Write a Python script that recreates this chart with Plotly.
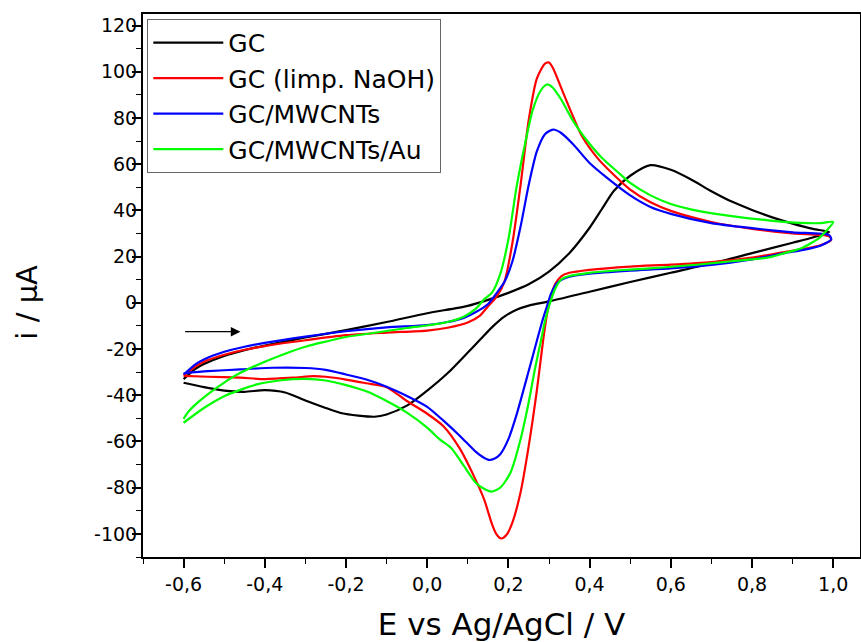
import plotly.graph_objects as go

# Cyclic voltammograms: forward sweep (-0.6 -> 1.0 V) followed by the reverse sweep.
gc_fwd_E = [-0.60, -0.57, -0.55, -0.50, -0.45, -0.40, -0.30, -0.20, -0.10, 0.00, 0.10, 0.15, 0.20,
            0.25, 0.30, 0.35, 0.40, 0.43, 0.46, 0.50, 0.55, 0.60, 0.65, 0.70, 0.75, 0.80, 0.85, 0.90, 0.95, 0.99]
gc_fwd_i = [-33.0, -28.5, -26.5, -23.0, -20.5, -18.5, -15.0, -11.8, -8.3, -4.5, -1.3, 1.3, 4.3,
            8.0, 13.5, 21.5, 32.5, 40.5, 48.5, 55.0, 59.6, 57.6, 53.4, 48.3, 43.8, 40.2, 37.0, 34.3, 32.0, 30.6]
gc_rev_E = [0.95, 0.90, 0.80, 0.70, 0.60, 0.50, 0.40, 0.30, 0.25, 0.22, 0.19, 0.16, 0.13, 0.10, 0.05,
            0.00, -0.05, -0.10, -0.13, -0.17, -0.21, -0.25, -0.30, -0.35, -0.40, -0.45, -0.50, -0.55, -0.60]
gc_rev_i = [28.3, 26.0, 21.5, 17.0, 13.0, 9.0, 4.8, 0.6, -1.2, -3.0, -6.0, -10.5, -16.0, -21.5, -30.5,
            -38.0, -44.5, -48.3, -49.3, -48.8, -47.8, -45.5, -42.3, -38.8, -37.8, -38.5, -38.0, -36.5, -34.6]

naoh_fwd_E = [-0.60, -0.57, -0.55, -0.50, -0.45, -0.40, -0.30, -0.20, -0.10, 0.00, 0.05, 0.10, 0.13,
              0.15, 0.17, 0.19, 0.21, 0.23, 0.25, 0.27, 0.29, 0.30, 0.31, 0.33, 0.35, 0.38, 0.42, 0.46,
              0.50, 0.55, 0.60, 0.70, 0.80, 0.90, 0.99]
naoh_fwd_i = [-31.5, -27.5, -25.5, -22.5, -20.3, -18.7, -16.2, -14.0, -12.9, -12.0, -10.8, -8.5, -5.5,
              -1.5, 2.5, 9.0, 26.0, 51.0, 79.0, 97.0, 103.5, 104.0, 101.5, 93.0, 84.5, 72.5, 62.5, 55.3,
              49.0, 43.5, 39.8, 35.0, 32.0, 30.0, 28.8]
naoh_rev_E = [0.995, 0.97, 0.93, 0.88, 0.80, 0.70, 0.60, 0.50, 0.40, 0.35, 0.33, 0.315, 0.305, 0.295, 0.285,
              0.27, 0.25, 0.23, 0.21, 0.195, 0.182, 0.17, 0.16, 0.14, 0.115, 0.08, 0.04, 0.00, -0.05,
              -0.10, -0.15, -0.20, -0.25, -0.28, -0.33, -0.40, -0.46, -0.54, -0.60]
naoh_rev_i = [27.2, 25.0, 23.4, 22.0, 19.6, 17.6, 16.5, 15.7, 14.3, 13.0, 11.5, 8.0, 3.0, -5.0, -17.0,
              -38.0, -62.0, -82.0, -95.0, -100.5, -102.0, -100.0, -96.0, -85.0, -75.0, -63.0, -53.4, -48.0, -42.5,
              -36.5, -34.8, -33.2, -32.0, -31.7, -32.4, -33.0, -32.4, -32.0, -31.6]

mw_fwd_E = [-0.60, -0.57, -0.55, -0.50, -0.45, -0.40, -0.30, -0.20, -0.10, 0.00, 0.05, 0.09, 0.12,
            0.15, 0.17, 0.19, 0.21, 0.23, 0.25, 0.27, 0.29, 0.31, 0.33, 0.36, 0.40, 0.44, 0.50, 0.55,
            0.60, 0.70, 0.80, 0.90, 0.99]
mw_fwd_i = [-31.0, -26.5, -24.5, -21.2, -19.0, -17.3, -14.6, -12.3, -10.6, -9.6, -8.3, -6.5, -4.0,
            -0.5, 4.0, 9.0, 18.0, 33.0, 51.0, 65.5, 73.0, 75.0, 73.5, 68.5, 60.5, 54.5, 46.5, 41.5,
            38.5, 34.5, 32.3, 30.5, 29.3]
mw_rev_E = [0.995, 0.97, 0.93, 0.88, 0.80, 0.70, 0.60, 0.50, 0.40, 0.35, 0.32, 0.305, 0.295, 0.285, 0.27,
            0.25, 0.22, 0.20, 0.18, 0.165, 0.152, 0.135, 0.12, 0.08, 0.04, 0.00, -0.05, -0.10, -0.15,
            -0.20, -0.25, -0.30, -0.38, -0.46, -0.54, -0.60]
mw_rev_i = [27.5, 24.8, 23.0, 21.5, 18.8, 16.4, 14.9, 13.9, 12.6, 11.3, 8.6, 4.0, -1.5, -7.0, -16.5,
            -29.5, -48.5, -59.0, -65.5, -67.5, -68.0, -66.5, -64.5, -57.5, -51.0, -45.0, -40.3, -36.3, -33.2,
            -31.0, -29.0, -28.2, -28.1, -28.8, -29.6, -30.5]

au_fwd_E = [-0.60, -0.59, -0.575, -0.54, -0.50, -0.46, -0.40, -0.35, -0.30, -0.25, -0.20, -0.15, -0.10,
            -0.05, 0.00, 0.05, 0.09, 0.12, 0.14, 0.16, 0.18, 0.20, 0.22, 0.24, 0.26, 0.28, 0.295, 0.31,
            0.33, 0.36, 0.39, 0.43, 0.47, 0.50, 0.55, 0.60, 0.67, 0.75, 0.84, 0.92, 0.97, 1.00]
au_fwd_i = [-50.2, -47.5, -44.7, -39.5, -34.5, -30.3, -25.5, -22.0, -19.0, -16.8, -14.8, -13.5, -12.2,
            -10.9, -9.8, -8.3, -6.0, -2.5, 1.5, 4.5, 12.5, 27.5, 50.0, 68.0, 83.5, 92.0, 94.5, 93.0,
            88.0, 78.5, 71.0, 62.8, 56.5, 51.9, 46.5, 42.8, 39.7, 37.5, 35.7, 34.6, 34.5, 35.0]
au_rev_E = [0.985, 0.965, 0.945, 0.92, 0.88, 0.84, 0.75, 0.67, 0.58, 0.50, 0.40, 0.35, 0.33, 0.315,
            0.30, 0.29, 0.28, 0.265, 0.25, 0.23, 0.205, 0.18, 0.158, 0.14, 0.12, 0.09, 0.06, 0.03, 0.00,
            -0.05, -0.10, -0.15, -0.20, -0.25, -0.30, -0.36, -0.42, -0.50, -0.55, -0.60]
au_rev_i = [31.5, 28.0, 25.8, 23.5, 21.5, 19.6, 18.0, 16.6, 15.3, 14.4, 13.0, 11.6, 10.1, 6.0,
            -1.5, -8.0, -16.5, -29.0, -43.0, -59.0, -73.5, -80.0, -81.7, -80.5, -78.0, -70.5, -63.0, -59.0, -54.0,
            -47.5, -42.5, -38.3, -35.6, -33.6, -32.9, -33.5, -35.3, -40.4, -45.5, -51.9]

series_names = ["GC", "GC (limp. NaOH)", "GC/MWCNTs", "GC/MWCNTs/Au"]
series_colors = ["#000000", "#ff0000", "#0000ff", "#00ff00"]
series_data = [
    (gc_fwd_E + gc_rev_E, gc_fwd_i + gc_rev_i),
    (naoh_fwd_E + naoh_rev_E, naoh_fwd_i + naoh_rev_i),
    (mw_fwd_E + mw_rev_E, mw_fwd_i + mw_rev_i),
    (au_fwd_E + au_rev_E, au_fwd_i + au_rev_i),
]

x_ticks = [-0.6, -0.4, -0.2, 0.0, 0.2, 0.4, 0.6, 0.8, 1.0]
x_tick_labels = ["-0,6", "-0,4", "-0,2", "0,0", "0,2", "0,4", "0,6", "0,8", "1,0"]
y_ticks = [-100, -80, -60, -40, -20, 0, 20, 40, 60, 80, 100, 120]
y_tick_labels = ["-100", "-80", "-60", "-40", "-20", "0", "20", "40", "60", "80", "100", "120"]

# sweep direction marker
sweep_arrow_start = (-0.60, -12.5)
sweep_arrow_end = (-0.46, -12.5)

FONT = "DejaVu Sans"

fig = go.Figure()
for name, color, (E, i) in zip(series_names, series_colors, series_data):
    fig.add_trace(go.Scatter(
        x=E, y=i, name=name, mode="lines",
        line=dict(color=color, width=2.2, shape="spline", smoothing=0.7),
    ))

fig.add_annotation(
    x=sweep_arrow_end[0], y=sweep_arrow_end[1],
    ax=sweep_arrow_start[0], ay=sweep_arrow_start[1],
    xref="x", yref="y", axref="x", ayref="y",
    text="", showarrow=True, arrowhead=2, arrowsize=1.6, arrowwidth=1.2, arrowcolor="black",
)

# y-axis title placed as rotated text beside the tick labels
fig.add_annotation(
    text="i / µA", textangle=-90, showarrow=False,
    xref="paper", yref="paper", x=-0.162, y=0.47, xanchor="center", yanchor="middle",
    font=dict(family=FONT, size=29, color="black"),
)

axis_common = dict(
    showline=True, linecolor="black", linewidth=2, mirror=True,
    ticks="outside", ticklen=9, tickwidth=1.6, tickcolor="black",
    showgrid=False, zeroline=False,
    tickfont=dict(family=FONT, size=19, color="black"),
)

fig.update_xaxes(
    **axis_common,
    range=[-0.7, 1.066],
    tickvals=x_ticks, ticktext=x_tick_labels,
    minor=dict(ticks="outside", ticklen=5, tickwidth=1.4, tickcolor="black", dtick=0.1, tick0=-0.7),
    title=dict(text="E vs Ag/AgCl / V", font=dict(family=FONT, size=31, color="black"), standoff=20),
)
fig.update_yaxes(
    **axis_common,
    range=[-110, 125],
    tickvals=y_ticks, ticktext=y_tick_labels,
    ticklabelstandoff=-9,
    minor=dict(ticks="outside", ticklen=5, tickwidth=1.4, tickcolor="black", dtick=10, tick0=0),
)

fig.update_layout(
    width=861, height=642,
    margin=dict(l=143, r=1, t=14, b=85, autoexpand=False),
    paper_bgcolor="white", plot_bgcolor="white",
    showlegend=True,
    legend=dict(
        x=0.006, y=0.991, xanchor="left", yanchor="top",
        bgcolor="white", bordercolor="#666666", borderwidth=1,
        font=dict(family=FONT, size=25, color="black"),
        itemwidth=70, tracegroupgap=0,
    ),
)

fig.write_html("out.html")
